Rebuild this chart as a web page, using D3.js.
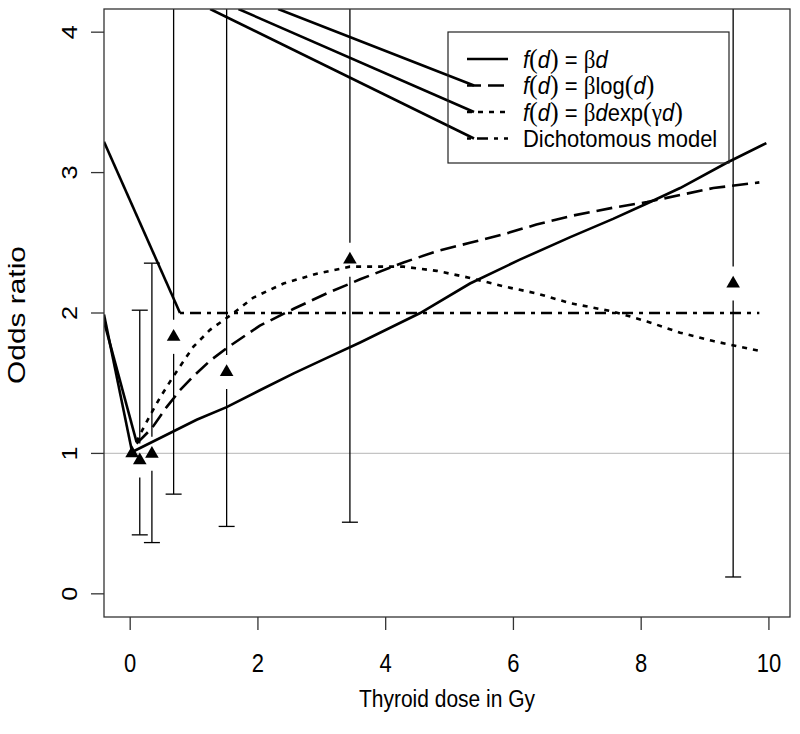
<!doctype html>
<html lang="en">

<head>
    <meta charset="utf-8">
    <title>Odds ratio by thyroid dose</title>
    <script src="https://cdn.jsdelivr.net/npm/d3@7/dist/d3.min.js"></script>
    <style type="text/css">
        body {
            margin: 0;
            background-color: #ffffff;
        }

        svg text {
            font-family: "Liberation Sans", Arial, Helvetica, sans-serif;
            fill: #000;
        }
    </style>
</head>

<body>
    <svg id="chart" width="800" height="734"></svg>

    <script>
        // axis ticks
        var xTicks = [0, 2, 4, 6, 8, 10];
        var yTicks = [0, 1, 2, 3, 4];

        // observed odds ratios (triangles) and their confidence limits
        var doses = [0.03, 0.15, 0.34, 0.68, 1.51, 3.44, 9.44];
        var oddsRatios = [1.0, 0.95, 0.997, 1.83, 1.58, 2.38, 2.21];
        var ciLower = [null, 0.42, 0.365, 0.71, 0.48, 0.51, 0.12];
        var ciUpper = [null, 2.02, 2.355, 4.6, 5.3, 6.1, 7.9];

        // fitted curves
        var linearDose = [0.03, 1.04, 1.51, 2.03, 2.56, 3.08, 3.60, 4.54, 5.32, 6.10, 6.89, 7.56, 8.09, 8.61, 9.34, 9.96];
        var linearOR = [1.01, 1.24, 1.33, 1.45, 1.57, 1.68, 1.79, 2.00, 2.21, 2.38, 2.54, 2.67, 2.78, 2.89, 3.07, 3.21];

        var logDose = [0.10, 0.34, 0.57, 0.78, 0.99, 1.25, 1.51, 2.03, 2.56, 3.08, 3.60, 4.28, 4.80, 5.32, 5.84, 6.36, 6.89, 7.56, 8.09, 8.61, 9.13, 9.85];
        var logOR = [1.07, 1.18, 1.33, 1.45, 1.55, 1.66, 1.75, 1.91, 2.03, 2.14, 2.24, 2.36, 2.44, 2.50, 2.56, 2.63, 2.69, 2.75, 2.79, 2.84, 2.89, 2.93];

        var expDose = [0.10, 0.16, 0.31, 0.47, 0.65, 0.78, 0.99, 1.25, 1.59, 1.93, 2.40, 2.92, 3.44, 3.86, 4.28, 4.80, 5.32, 5.84, 6.36, 6.89, 7.56, 8.09, 8.61, 9.13, 9.85];
        var expOR = [1.08, 1.14, 1.27, 1.40, 1.53, 1.62, 1.76, 1.88, 1.99, 2.11, 2.21, 2.28, 2.33, 2.33, 2.33, 2.30, 2.25, 2.19, 2.14, 2.07, 2.01, 1.94, 1.86, 1.80, 1.73];

        var dichoDose = [0.78, 9.85];
        var dichoOR = [2.0, 2.0];

        // stray path segments that show in the original figure
        var strayFrom = [[-0.41, 3.22], [-0.41, 1.99], [-0.41, 1.94]];
        var strayTo = [[0.78, 2.0], [0.03, 1.01], [0.10, 1.08]];
        var leaderTops = [2.316, 1.695, 1.252];

        var legendLabels = [
            [["f", "i"], ["(", "p"], ["d", "i"], [")", "p"], [" = ", "n"], ["β", "s"], ["d", "i"]],
            [["f", "i"], ["(", "p"], ["d", "i"], [")", "p"], [" = ", "n"], ["β", "s"], ["log", "n"], ["(", "p"], ["d", "i"], [")", "p"]],
            [["f", "i"], ["(", "p"], ["d", "i"], [")", "p"], [" = ", "n"], ["β", "s"], ["d", "i"], ["exp", "n"], ["(", "p"], ["γ", "s"], ["d", "i"], [")", "p"]],
            [["Dichotomous model", "n"]]
        ];
        var legendDash = [null, "16,7", "5,6", "4,6,11,6"];

        var svg = d3.select("#chart");
        var pL = 104, pR = 790, pT = 9, pB = 617;
        var stretch = 1.15; // the original figure's text is a little taller than wide

        var x = d3.scaleLinear().domain([-0.41, 10.33]).range([pL, pR]);
        var y = d3.scaleLinear().domain([-0.165, 4.165]).range([pB, pT]);

        svg.append("clipPath").attr("id", "plotClip")
            .append("rect")
            .attr("x", pL).attr("y", pT)
            .attr("width", pR - pL).attr("height", pB - pT);

        var plot = svg.append("g").attr("clip-path", "url(#plotClip)");

        // reference line at OR = 1
        plot.append("line")
            .attr("x1", pL).attr("x2", pR)
            .attr("y1", y(1)).attr("y2", y(1))
            .style("stroke", "#c4c4c4").style("stroke-width", "1.2px");

        // error bars, broken around the triangle
        var gap = 17;
        doses.forEach(function (d, i) {
            if (ciLower[i] == null) return;
            var cx = x(d), cy = y(oddsRatios[i]);
            var g = plot.append("g").style("stroke", "#000").style("stroke-width", "1.3px");
            g.append("line").attr("x1", cx).attr("x2", cx).attr("y1", y(ciUpper[i])).attr("y2", cy - gap);
            g.append("line").attr("x1", cx).attr("x2", cx).attr("y1", cy + gap).attr("y2", y(ciLower[i]));
            [ciLower[i], ciUpper[i]].forEach(function (v) {
                g.append("line").attr("x1", cx - 8).attr("x2", cx + 8).attr("y1", y(v)).attr("y2", y(v));
            });
        });

        var line = d3.line().x(function (p) { return x(p[0]); }).y(function (p) { return y(p[1]); });

        function drawCurve(xs, ys, dash) {
            plot.append("path")
                .datum(d3.zip(xs, ys))
                .attr("d", line)
                .style("fill", "none")
                .style("stroke", "#000")
                .style("stroke-width", "2.6px")
                .style("stroke-dasharray", dash);
        }

        drawCurve(linearDose, linearOR, null);
        drawCurve(logDose, logOR, "16,7");
        drawCurve(expDose, expOR, "5,6");
        drawCurve(dichoDose, dichoOR, "4,6,11,6");

        strayFrom.forEach(function (p, i) {
            plot.append("path")
                .datum([p, strayTo[i]])
                .attr("d", line)
                .style("fill", "none").style("stroke", "#000").style("stroke-width", "2.6px");
        });

        // triangles
        plot.selectAll(".pt")
            .data(d3.zip(doses, oddsRatios))
            .enter().append("path")
            .attr("class", "pt")
            .attr("transform", function (p) { return "translate(" + x(p[0]) + "," + y(p[1]) + ")"; })
            .attr("d", d3.symbol().type(d3.symbolTriangle).size(80))
            .style("fill", "#000");

        // legend
        var lgX = 448, lgY = 32, lgW = 281, lgH = 131;
        var rowY = [59, 85.5, 112, 138.5];

        // leaders from the top edge into the legend samples
        leaderTops.forEach(function (t, i) {
            var ex = 474, ey = rowY[i + 1];
            plot.append("line")
                .attr("x1", x(t)).attr("y1", y(4.165)).attr("x2", ex).attr("y2", ey)
                .style("stroke", "#000").style("stroke-width", "2.6px");
        });

        var legend = svg.append("g");
        legend.append("rect")
            .attr("x", lgX).attr("y", lgY).attr("width", lgW).attr("height", lgH)
            .style("fill", "none").style("stroke", "#222").style("stroke-width", "1.2px");

        legendLabels.forEach(function (tokens, i) {
            legend.append("line")
                .attr("x1", 467).attr("x2", 508)
                .attr("y1", rowY[i]).attr("y2", rowY[i])
                .style("stroke", "#000").style("stroke-width", "2.6px")
                .style("stroke-dasharray", legendDash[i])
                .style("stroke-dashoffset", i == 1 ? 2 : 0);
            var t = legend.append("text")
                .attr("transform", "translate(523," + rowY[i] + ") scale(1,1.08)")
                .attr("dy", "0.36em")
                .style("font-size", "22px");
            tokens.forEach(function (tk) {
                var s = t.append("tspan").text(tk[0]);
                if (tk[1] == "i") s.style("font-style", "italic");
                if (tk[1] == "p") s.style("font-family", "'Liberation Serif', serif").style("font-size", "26px");
                if (tk[1] == "s") s.style("font-family", "'Liberation Serif', serif").style("font-size", "23px");
            });
        });

        // frame
        svg.append("rect")
            .attr("x", pL).attr("y", pT)
            .attr("width", pR - pL).attr("height", pB - pT)
            .style("fill", "none").style("stroke", "#333").style("stroke-width", "1.3px");

        // x axis
        var xAxis = svg.append("g");
        xTicks.forEach(function (v) {
            xAxis.append("line")
                .attr("x1", x(v)).attr("x2", x(v)).attr("y1", pB).attr("y2", pB + 13)
                .style("stroke", "#333").style("stroke-width", "1.3px");
            xAxis.append("text")
                .attr("transform", "translate(" + x(v) + ",663) scale(1," + stretch + ")")
                .attr("dy", "0.36em")
                .attr("text-anchor", "middle")
                .style("font-size", "22px")
                .text(v);
        });
        svg.append("text")
            .attr("transform", "translate(" + (pL + pR) / 2 + ",698) scale(1," + stretch + ")")
            .attr("dy", "0.36em")
            .attr("text-anchor", "middle")
            .style("font-size", "21px")
            .text("Thyroid dose in Gy");

        // y axis
        var yAxis = svg.append("g");
        yTicks.forEach(function (v) {
            yAxis.append("line")
                .attr("x1", pL - 13).attr("x2", pL).attr("y1", y(v)).attr("y2", y(v))
                .style("stroke", "#333").style("stroke-width", "1.3px");
            yAxis.append("text")
                .attr("transform", "translate(69," + y(v) + ") scale(1," + stretch + ") rotate(-90)")
                .attr("dy", "0.36em")
                .attr("text-anchor", "middle")
                .style("font-size", "22px")
                .text(v);
        });
        svg.append("text")
            .attr("transform", "translate(17,315) scale(1,1.3) rotate(-90)")
            .attr("dy", "0.36em")
            .attr("text-anchor", "middle")
            .style("font-size", "23px")
            .text("Odds ratio");
    </script>
</body>

</html>
